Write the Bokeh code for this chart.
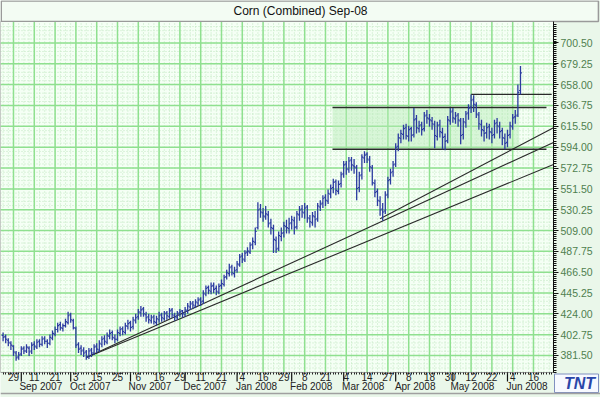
from bokeh.plotting import figure
from bokeh.models import (ColumnDataSource, Range1d, FixedTicker, LinearAxis,
                          NumeralTickFormatter)
from bokeh.core.properties import value
from bokeh.embed import file_html
from bokeh.resources import INLINE

# ---------------- data (trading-day index, 0 = 29 Aug 2007) ----------------
days = list(range(-4, 196))

close = [400, 398, 395, 392, 385, 379, 382, 388, 386, 390,
         385, 392, 391, 395, 393, 398, 396, 394, 400, 404,
         408, 412, 410, 412, 416, 422, 418, 410, 392, 388,
         386, 384, 380, 386, 384, 390, 388, 394, 398, 396,
         402, 404, 400, 398, 405, 408, 406, 412, 414, 410,
         418, 420, 426, 428, 424, 420, 418, 420, 416, 419,
         422, 420, 424, 422, 427, 423, 421, 424, 426, 424,
         428, 432, 434, 433, 436, 438, 436, 445, 450, 448,
         452, 449, 447, 452, 455, 461, 466, 471, 466, 468,
         475, 482, 480, 486, 488, 494, 498, 508, 530, 528,
         524, 526, 516, 512, 500, 490, 504, 506, 514, 512,
         516, 520, 512, 526, 530, 528, 532, 522, 518, 524,
         520, 534, 536, 542, 540, 547, 552, 558, 550, 556,
         566, 576, 572, 580, 576, 574, 552, 565, 584, 586,
         582, 574, 558, 548, 540, 530, 528, 545, 560, 568,
         576, 594, 604, 608, 613, 606, 612, 606, 622, 614,
         616, 612, 626, 624, 622, 618, 606, 616, 610, 604,
         600, 622, 630, 624, 626, 622, 606, 620, 628, 634,
         642, 638, 628, 618, 612, 608, 614, 610, 606, 618,
         616, 610, 604, 598, 606, 616, 624, 626, 650, 670]

open_ = [402, 401, 397, 394, 391, 384, 380, 383, 389, 386,
         389, 386, 393, 390, 396, 393, 399, 396, 394, 399,
         403, 408, 413, 409, 412, 415, 423, 417, 409, 393,
         389, 387, 385, 381, 387, 384, 391, 387, 393, 399,
         395, 401, 405, 399, 398, 404, 409, 405, 411, 415,
         411, 417, 421, 425, 429, 423, 421, 417, 421, 415,
         418, 423, 419, 425, 421, 428, 422, 420, 425, 427,
         423, 427, 431, 435, 432, 435, 439, 437, 444, 451,
         447, 453, 450, 446, 453, 454, 462, 465, 472, 465,
         469, 474, 483, 479, 487, 487, 495, 497, 512, 531,
         527, 523, 525, 517, 511, 499, 491, 503, 507, 513,
         511, 517, 519, 513, 525, 531, 527, 533, 521, 517,
         523, 521, 533, 537, 543, 539, 546, 553, 559, 549,
         557, 567, 577, 571, 581, 575, 573, 553, 566, 583,
         587, 581, 573, 557, 549, 539, 531, 529, 546, 561,
         569, 577, 595, 603, 607, 614, 605, 613, 607, 623,
         613, 617, 613, 627, 623, 621, 617, 605, 617, 609,
         605, 601, 621, 631, 623, 627, 621, 607, 619, 629,
         635, 643, 637, 627, 617, 611, 609, 615, 609, 607,
         619, 615, 611, 603, 599, 607, 615, 625, 627, 652]

high = [405, 403, 399, 396, 392, 386, 385, 391, 391, 393,
        391, 395, 396, 398, 398, 401, 401, 398, 403, 407,
        411, 415, 416, 414, 419, 426, 425, 419, 411, 395,
        392, 390, 387, 389, 389, 393, 394, 397, 401, 402,
        405, 408, 407, 403, 408, 411, 411, 415, 418, 417,
        421, 424, 429, 432, 431, 426, 424, 423, 423, 422,
        426, 425, 427, 427, 430, 430, 425, 427, 429, 428,
        431, 435, 437, 437, 439, 441, 441, 448, 453, 453,
        456, 456, 453, 455, 459, 464, 469, 475, 474, 472,
        478, 485, 486, 489, 492, 497, 502, 512, 538, 536,
        532, 534, 529, 521, 515, 503, 508, 512, 518, 520,
        522, 524, 523, 529, 534, 535, 537, 535, 525, 528,
        529, 537, 540, 545, 546, 551, 556, 562, 561, 560,
        569, 580, 580, 584, 584, 582, 576, 569, 587, 590,
        589, 585, 576, 561, 552, 544, 537, 549, 564, 572,
        580, 598, 608, 612, 617, 618, 616, 615, 634, 627,
        621, 620, 630, 632, 628, 625, 621, 620, 622, 614,
        608, 626, 634, 634, 630, 629, 624, 624, 631, 638,
        648, 647, 640, 630, 622, 616, 619, 618, 614, 622,
        624, 620, 614, 608, 612, 620, 628, 632, 658, 677]

low = [396, 394, 391, 387, 381, 376, 377, 381, 383, 384,
       381, 383, 387, 388, 390, 391, 393, 389, 392, 397,
       401, 405, 407, 406, 410, 413, 415, 408, 389, 384,
       382, 380, 377, 378, 380, 382, 384, 385, 390, 392,
       393, 398, 397, 394, 396, 401, 402, 403, 408, 406,
       408, 414, 418, 421, 421, 416, 414, 414, 413, 412,
       415, 416, 417, 418, 419, 420, 417, 418, 421, 420,
       421, 424, 428, 429, 430, 432, 432, 434, 442, 444,
       444, 445, 443, 444, 449, 452, 459, 462, 463, 461,
       466, 472, 476, 477, 483, 485, 490, 494, 510, 522,
       518, 520, 512, 505, 486, 486, 488, 498, 502, 506,
       506, 510, 505, 510, 519, 522, 521, 517, 512, 514,
       512, 518, 529, 532, 534, 536, 542, 547, 545, 546,
       553, 563, 566, 568, 570, 567, 540, 548, 561, 578,
       578, 569, 555, 543, 534, 524, 519, 526, 542, 556,
       564, 574, 590, 598, 602, 602, 600, 600, 604, 608,
       609, 606, 610, 618, 615, 612, 593, 601, 604, 592,
       591, 598, 617, 619, 618, 615, 597, 602, 614, 622,
       629, 630, 624, 612, 605, 600, 603, 602, 598, 603,
       608, 603, 596, 592, 594, 603, 612, 618, 625, 648]

# x-axis ticks (every 8 trading days) and month starts
day_ticks = [0, 8, 16, 24, 32, 40, 48, 56, 64, 72, 80, 88, 96, 104,
             112, 120, 128, 136, 144, 152, 160, 168, 176, 184, 192, 200]
day_labels = ["29", "11", "21", "3", "15", "25", "6", "16", "29", "11",
              "21", "4", "16", "29", "8", "21", "4", "14", "27", "8",
              "18", "30", "12", "22", "4", "16"]
month_starts = [3, 22, 45, 66, 86, 107, 127, 147, 169, 190]
month_labels = ["Sep 2007", "Oct 2007", "Nov 2007", "Dec 2007", "Jan 2008",
                "Feb 2008", "Mar 2008", "Apr 2008", "May 2008", "Jun 2008"]

price_labels = ["381.50", "402.75", "424.00", "445.25", "466.50", "487.75",
                "509.00", "530.25", "551.50", "572.75", "594.00", "615.50",
                "636.75", "658.00", "679.25", "700.50"]
price_ticks = [float(s) for s in price_labels]

title_text = "Corn (Combined) Sep-08"
logo_text = "TNT"

# drawn analysis objects
trend_days = [[28, 207.7], [28, 207.7], [141, 207.7]]
trend_prices = [[379.5, 599.0], [379.5, 576.5], [521.0, 614.0]]
box_days = [122.7, 194.5]
box_line_end = 205.0
box_prices = [592.0, 634.6]
resist_days = [176, 207.0]
resist_price = 648.0

# ---------------- geometry ----------------
W, H = 600, 397
X0, X1 = -5.0, 207.7          # chart area (trading days)
Y0, Y1 = 364.1, 722.4         # chart area (price)
CH_L, CH_R = 0.0, 553.0       # chart area in pixels
CH_T, CH_B = 21.0, 372.0
dx = (X1 - X0) / (CH_R - CH_L)
dy = (Y1 - Y0) / (CH_B - CH_T)
XR = (X0 - CH_L * dx, X0 + (W - CH_L) * dx)
YR = (Y0 - (H - CH_B) * dy, Y1 + CH_T * dy)
FONT = "Liberation Sans"

p = figure(width=W, height=H, output_backend="svg", toolbar_location=None,
           x_range=Range1d(*XR), y_range=Range1d(*YR),
           x_axis_location=None, y_axis_location=None)
p.min_border = 0
p.min_border_left = p.min_border_right = p.min_border_top = p.min_border_bottom = 0
p.outline_line_color = None
p.border_fill_color = "#eaf7ea"
p.background_fill_color = "#eaf7ea"
p.xgrid.visible = False
p.ygrid.visible = False

# title bar
p.quad(left=[XR[0] + 0.3], right=[XR[1] - 0.8], bottom=[Y1], top=[YR[1] - 0.5],
       fill_color="#f3fcf3", line_color="#9a9a9a", line_width=1.5)
p.text(x=[(XR[0] + XR[1]) / 2], y=[(Y1 + YR[1]) / 2], text=[title_text],
       text_font=value(FONT), text_font_size="12px", text_color="#111111",
       text_align="center", text_baseline="middle")

# chart background
p.quad(left=[X0], right=[X1], bottom=[Y0], top=[Y1],
       fill_color="#f5fff5", line_color=None)

# grid: dotted minor + green major
minor_x = [d for d in range(-4, 208, 2)]
minor_y = [381.5 + 4.25 * k for k in range(-4, 80) if Y0 < 381.5 + 4.25 * k < Y1]
p.segment(x0=minor_x, x1=minor_x, y0=[Y0] * len(minor_x), y1=[Y1] * len(minor_x),
          line_color="#bfe6bf", line_dash="1 2", line_width=1)
p.segment(x0=[X0] * len(minor_y), x1=[X1] * len(minor_y), y0=minor_y, y1=minor_y,
          line_color="#bfe6bf", line_dash="1 2", line_width=1)
p.segment(x0=day_ticks, x1=day_ticks, y0=[Y0] * len(day_ticks), y1=[Y1] * len(day_ticks),
          line_color="#8fe08f", line_width=1.5)
p.segment(x0=[X0] * len(price_ticks), x1=[X1] * len(price_ticks),
          y0=price_ticks, y1=price_ticks, line_color="#8fe08f", line_width=1.5)

# consolidation box
p.quad(left=[box_days[0]], right=[box_days[1]], bottom=[box_prices[0]],
       top=[box_prices[1]], fill_color="#b5eab5", fill_alpha=0.45, line_color=None)
p.multi_line(xs=[[box_days[0], box_line_end], [box_days[0], box_line_end], resist_days],
             ys=[[box_prices[0]] * 2, [box_prices[1]] * 2, [resist_price] * 2],
             line_color="#2a2a2a", line_width=1.3)

# trend lines
p.multi_line(xs=trend_days, ys=trend_prices, line_color="#2a2a2a", line_width=1.1)

# OHLC bars
src = ColumnDataSource(dict(x=days, o=open_, h=high, l=low, c=close,
                            xl=[d - 0.55 for d in days],
                            xr=[d + 0.55 for d in days]))
bar_color = "#2b3ba0"
p.segment(x0="x", y0="l", x1="x", y1="h", source=src, line_color=bar_color, line_width=1.3)
p.segment(x0="xl", y0="o", x1="x", y1="o", source=src, line_color=bar_color, line_width=1.1)
p.segment(x0="x", y0="c", x1="xr", y1="c", source=src, line_color=bar_color, line_width=1.1)

# chart frame
p.quad(left=[X0], right=[X1], bottom=[Y0], top=[Y1], fill_color=None,
       line_color="#9a9a9a", line_width=1)

# month separators under the chart
p.segment(x0=month_starts, x1=month_starts, y0=[Y0] * len(month_starts),
          y1=[Y0 - 9 * dy] * len(month_starts), line_color="#111111", line_width=1.2)

# bottom axis: day numbers
xa = LinearAxis(fixed_location=Y0, bounds=(X0, X1),
                ticker=FixedTicker(ticks=day_ticks, minor_ticks=list(range(-4, 208))))
xa.major_label_overrides = {d: s for d, s in zip(day_ticks, day_labels)}
xa.major_tick_out = 0
xa.major_tick_in = 0
xa.minor_tick_out = 2
xa.minor_tick_in = 0
xa.minor_tick_line_color = "#222222"
xa.axis_line_color = None
xa.major_label_standoff = -2
xa.major_label_text_font = FONT
xa.major_label_text_font_size = "10px"
xa.major_label_text_color = "#222222"
p.add_layout(xa, "below")

# month names
mpos = [m + 7.5 for m in month_starts]
ma = LinearAxis(fixed_location=Y0 - 8 * dy, bounds=(X0, X1),
                ticker=FixedTicker(ticks=mpos, minor_ticks=[]))
ma.major_label_overrides = {m: s for m, s in zip(mpos, month_labels)}
ma.major_tick_out = 0
ma.major_tick_in = 0
ma.minor_tick_out = 0
ma.minor_tick_in = 0
ma.axis_line_color = None
ma.major_label_standoff = 0
ma.major_label_text_font = FONT
ma.major_label_text_font_size = "10px"
ma.major_label_text_color = "#222222"
p.add_layout(ma, "below")

# right price axis
ya = LinearAxis(fixed_location=X1, bounds=(Y0, Y1),
                ticker=FixedTicker(ticks=price_ticks,
                                   minor_ticks=[381.5 + 2.125 * k for k in range(-8, 160)]))
ya.formatter = NumeralTickFormatter(format="0.00")
ya.axis_line_color = "#111111"
ya.major_tick_out = 5
ya.major_tick_in = 0
ya.minor_tick_out = 3
ya.minor_tick_in = 0
ya.major_tick_line_color = "#111111"
ya.minor_tick_line_color = "#111111"
ya.major_label_standoff = 2
ya.major_label_text_font = FONT
ya.major_label_text_font_size = "10.5px"
ya.major_label_text_color = "#4f7f4f"
p.add_layout(ya, "right")

# logo in the bottom-right corner
p.quad(left=[X1 + 1.0 * dx], right=[X1 + 45 * dx], bottom=[Y0 - 20 * dy], top=[Y0 - 1.5 * dy],
       fill_color="#f7f9ff", line_color="#8090c0", line_width=1)
p.text(x=[X1 + 26 * dx], y=[Y0 - 11 * dy], text=[logo_text],
       text_font=value(FONT), text_font_size="16px", text_font_style="bold italic",
       text_color="#2a45a8", text_align="center", text_baseline="middle")

# bottom border line
p.segment(x0=[XR[0]], x1=[XR[1]], y0=[YR[0] + 4 * dy], y1=[YR[0] + 4 * dy],
          line_color="#a0a0a0", line_width=1.5)

open("out.html", "w").write(file_html(p, INLINE))
